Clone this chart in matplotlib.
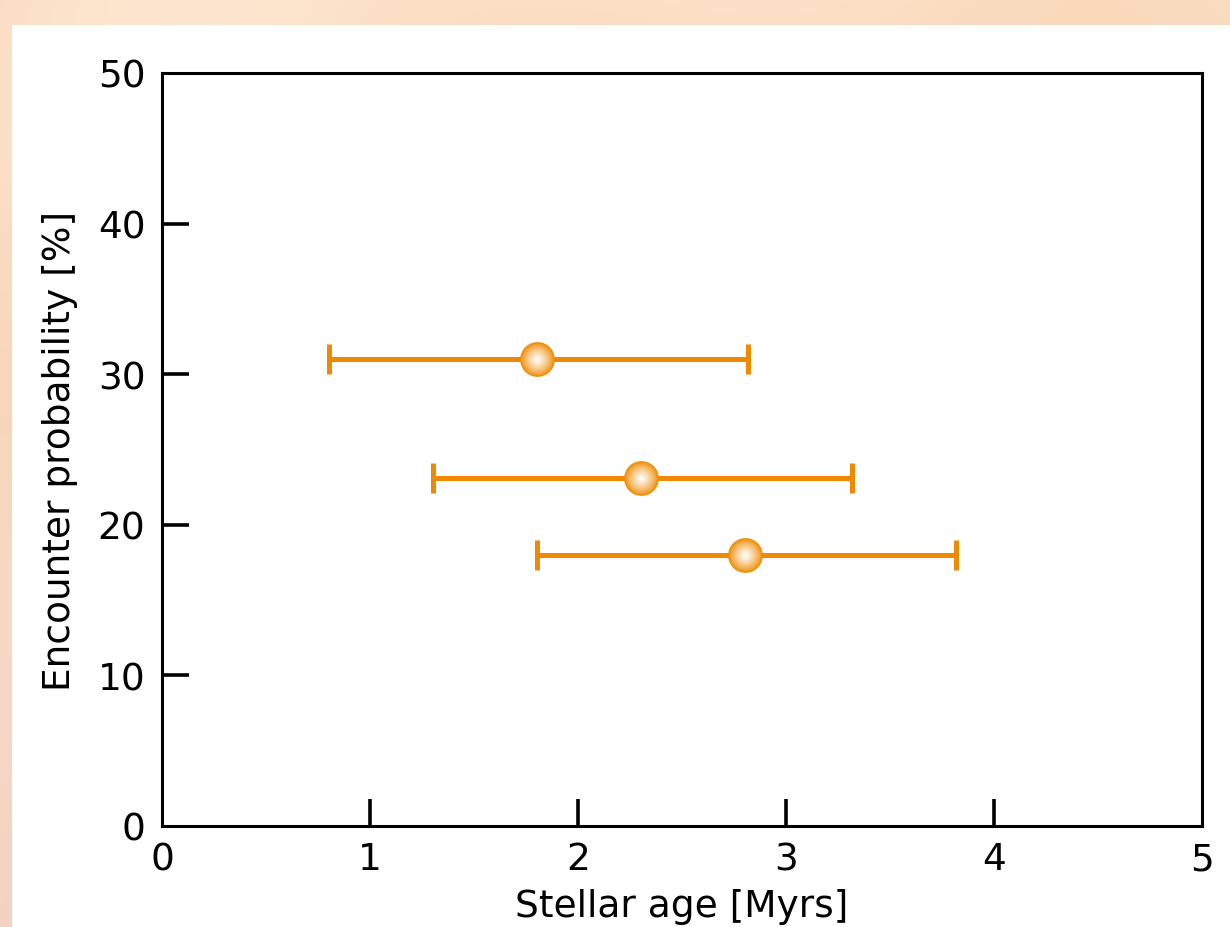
import numpy as np
import matplotlib.pyplot as plt
from matplotlib.colors import to_rgb
from matplotlib.patches import Rectangle

# data
age = [1.805, 2.305, 2.805]
prob = [31.0, 23.1, 18.0]
age_err_low = [1.0, 1.0, 1.0]
age_err_high = [1.01, 1.01, 1.01]

orange = '#ef8a00'

fig = plt.figure(figsize=(12.3, 9.28), dpi=100)

# warm blurred backdrop behind the white panel
bg = fig.add_axes([0, 0, 1, 1], zorder=-2)
yy, xx = np.mgrid[0:1:200j, 0:1:260j]
tex = 0.5 + 0.25 * np.sin(9 * xx + 4 * yy) * np.cos(7 * yy - 3 * xx) + 0.15 * np.sin(23 * xx * yy + 2)
c1 = np.array(to_rgb('#f9cfa9'))
c2 = np.array(to_rgb('#fde9d6'))
c3 = np.array(to_rgb('#f2cfc4'))
img = c1 * (1 - tex[..., None]) + c2 * tex[..., None]
img = img * (1 - yy[..., None] * 0.7) + c3 * yy[..., None] * 0.7
bg.imshow(img, extent=[0, 1, 0, 1], origin='upper', aspect='auto')
bg.set_axis_off()
fig.patches.append(Rectangle((12 / 1230, 0), 1, 1 - 26 / 928, transform=fig.transFigure,
                             facecolor='white', edgecolor='none', zorder=-1))

ax = fig.add_axes([162 / 1230, 1 - 827 / 928, 1040 / 1230, 753 / 928])
ax.errorbar(age, prob, xerr=[age_err_low, age_err_high], fmt='none', ecolor=orange,
            elinewidth=3.6, capsize=10.5, capthick=3.6, zorder=2)

# shaded spheres for the points
n = 18
for i in range(n):
    f = i / (n - 1)
    t = f ** 0.8
    col = (1 - t) * np.array(to_rgb(orange)) + t * np.array([1.0, 1.0, 1.0])
    size = 25 * (1 - f * 0.95)
    ax.plot(age, prob, 'o', ms=size, color=col, mec='none', zorder=3 + i)

ax.set_xlim(0, 5)
ax.set_ylim(0, 50)
ax.set_xticks([0, 1, 2, 3, 4, 5])
ax.set_yticks([0, 10, 20, 30, 40, 50])
ax.tick_params(direction='in', length=19.5, width=2.6, labelsize=27, pad=12)
ax.tick_params(axis='x', pad=11)
# end ticks sit on the spines, only their labels show
for tk in [ax.xaxis.get_major_ticks()[0], ax.xaxis.get_major_ticks()[-1],
           ax.yaxis.get_major_ticks()[0], ax.yaxis.get_major_ticks()[-1]]:
    tk.tick1line.set_visible(False)
for s in ax.spines.values():
    s.set_linewidth(2.2)
ax.set_xlabel('Stellar age [Myrs]', fontsize=27, labelpad=8)
ax.set_ylabel('Encounter probability [%]', fontsize=27, labelpad=14)

fig.savefig('out.png', dpi=100)
